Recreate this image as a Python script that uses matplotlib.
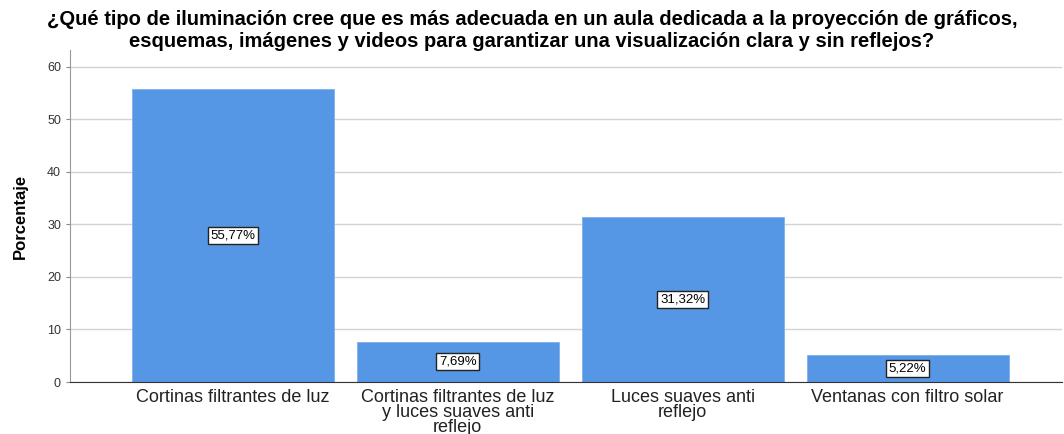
import matplotlib
matplotlib.use('Agg')
import matplotlib.pyplot as plt

# categories and percentages
categorias = ['Cortinas filtrantes de luz',
              'Cortinas filtrantes de luz\ny luces suaves anti\nreflejo',
              'Luces suaves anti\nreflejo',
              'Ventanas con filtro solar']
porcentajes = [55.77, 7.69, 31.32, 5.22]
etiquetas = ['55,77%', '7,69%', '31,32%', '5,22%']
titulo = ('¿Qué tipo de iluminación cree que es más adecuada en un aula dedicada a la proyección de gráficos,\n'
          'esquemas, imágenes y videos para garantizar una visualización clara y sin reflejos?')

plt.rcParams['font.family'] = ['Liberation Sans', 'DejaVu Sans']

fig = plt.figure(figsize=(10.64, 4.34), dpi=100)
ax = fig.add_axes([0.0658, 0.1198, 0.932, 0.765])

x = range(len(categorias))
ax.bar(x, porcentajes, width=0.898, color='#5596e5', edgecolor='#7fb0ec', linewidth=0.6, zorder=2)

for i, v in enumerate(porcentajes):
    ax.text(i, v / 2, etiquetas[i], ha='center', va='center', fontsize=9.5, zorder=3,
            bbox=dict(boxstyle='square,pad=0.2', facecolor='white', edgecolor='#222222', linewidth=1))

ax.set_xlim(-0.724, 3.685)
ax.set_ylim(0, 63.2)
ax.set_yticks(range(0, 61, 10))
ax.yaxis.grid(True, color='#d3d3d3', linewidth=1, zorder=0)
ax.set_axisbelow(True)

ax.set_xticks(list(x))
ax.set_xticklabels(categorias, fontsize=13, color='#222222', linespacing=0.84)
ax.tick_params(axis='x', length=0, pad=5)
ax.tick_params(axis='y', labelsize=9, colors='#333333', length=3, color='#888888')

for s in ['top', 'right']:
    ax.spines[s].set_visible(False)
ax.spines['left'].set_color('#999999')
ax.spines['bottom'].set_color('#333333')

ax.set_ylabel('Porcentaje', fontsize=12, fontweight='bold', labelpad=14)
fig.suptitle(titulo, x=0.5, y=0.978, fontsize=14.5, fontweight='bold', linespacing=1.22)

plt.savefig('out.png', dpi=100)
